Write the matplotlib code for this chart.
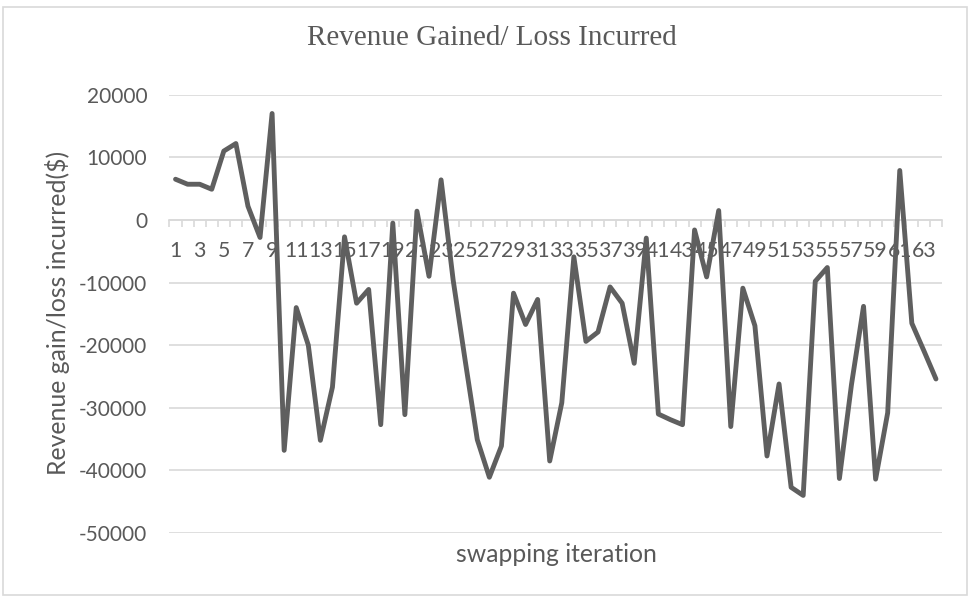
import matplotlib
matplotlib.use("Agg")
import matplotlib.pyplot as plt
from matplotlib.patches import Rectangle

# swapping iteration 1..64, revenue gain / loss in $
iterations = list(range(1, 65))
revenue = [
    6500, 5700, 5700, 4900, 11000, 12200, 2200, -2800, 17000, -36800,
    -14000, -20000, -35200, -26700, -2700, -13300, -11100, -32700, -500, -31100,
    1400, -9000, 6400, -9600, -22500, -35100, -41100, -36100, -11700, -16700,
    -12700, -38500, -29200, -5900, -19400, -17900, -10700, -13300, -22900, -2900,
    -31000, -31900, -32700, -1600, -9100, 1500, -33000, -10900, -16900, -37700,
    -26200, -42700, -44000, -9800, -7600, -41300, -26300, -13800, -41400, -30800,
    7900, -16500, -20900, -25400,
]
yticks = [20000, 10000, 0, -10000, -20000, -30000, -40000, -50000]
xlabels = [str(i) if i % 2 == 1 else "" for i in iterations]

txt = "#595959"
grid = "#d9d9d9"
plt.rcParams['font.family'] = ['Lato', 'DejaVu Sans']
plt.rcParams['axes.unicode_minus'] = False

fig = plt.figure(figsize=(9.7, 6), dpi=100)
fig.patches.append(Rectangle((3/970, 5/600), 964/970, 588/600, transform=fig.transFigure,
                             fill=False, edgecolor=grid, linewidth=1.2))

ax = fig.add_axes([169.5/970, 67/600, 772.5/970, 438.3/600])
ax.plot(iterations, revenue, color='#5f5f5f', linewidth=3.5, solid_joinstyle='round',
        solid_capstyle='round', zorder=3)

ax.set_xlim(0.5, 64.5)
ax.set_ylim(-50000, 20000)
ax.set_yticks(yticks, labels=[str(v) for v in yticks])
ax.yaxis.grid(True, color=grid, linewidth=1.2)
ax.set_axisbelow(False)

for s in ['top', 'right', 'left']:
    ax.spines[s].set_visible(False)
ax.spines['bottom'].set_position(('data', 0))
ax.spines['bottom'].set_color(grid)
ax.spines['bottom'].set_linewidth(1.2)
ax.spines['bottom'].set_zorder(1)

ax.set_xticks(iterations, labels=xlabels)
ax.set_xticks([i + 0.5 for i in range(0, 65)], minor=True)
ax.tick_params(axis='x', which='major', length=0, pad=15, labelsize=15.3, labelcolor=txt)
ax.tick_params(axis='x', which='minor', length=5, width=1.2, color=grid, direction='out')
ax.tick_params(axis='y', length=0, pad=16, labelsize=15, labelcolor=txt)

fig.text(492/970, 1 - 38/600, "Revenue Gained/ Loss Incurred", family='Liberation Serif',
         fontsize=21, color=txt, ha='center', va='center')
fig.text(556/970, 1 - 555/600, "swapping iteration", fontsize=17.8, color=txt,
         ha='center', va='center')
fig.text(58/970, 1 - 313/600, "Revenue gain/loss incurred($)", fontsize=17.8, color=txt,
         ha='center', va='center', rotation=90)

fig.savefig("out.png", dpi=100)
